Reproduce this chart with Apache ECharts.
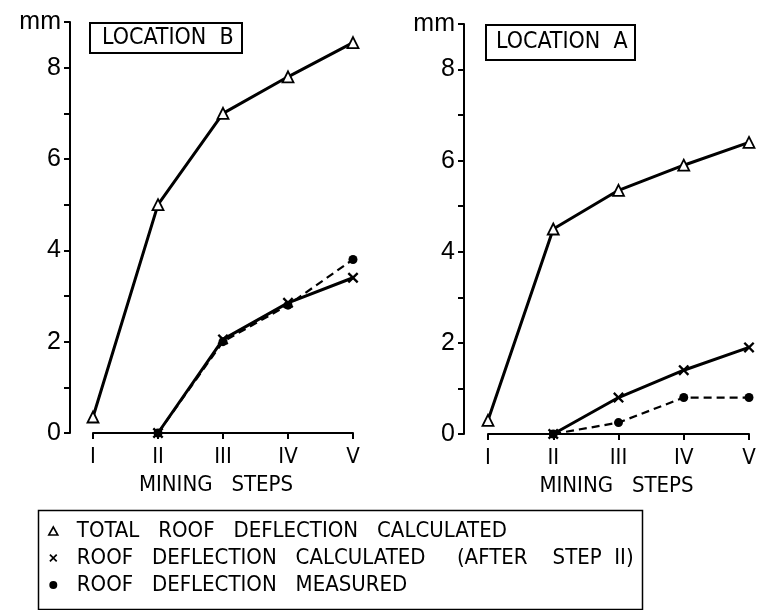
<!DOCTYPE html>
<html>
<head>
<meta charset="utf-8">
<title>Roof deflection by mining step</title>
<script src="https://cdn.jsdelivr.net/npm/echarts@6/dist/echarts.min.js"></script>
<style>
  html, body { margin: 0; padding: 0; background: #fff; }
  #chart { width: 772px; height: 610px; }
</style>
</head>
<body>
<div id="chart"></div>
<script>
// Mining steps along the horizontal axis
const steps = ['I', 'II', 'III', 'IV', 'V'];

// Location B (left panel), deflection in mm
const totalB = [0.35, 5.0, 7.0, 7.8, 8.55];
const calcB  = [null, 0, 2.05, 2.85, 3.4];
const measB  = [null, 0, 2.0, 2.8, 3.8];

// Location A (right panel), deflection in mm
const totalA = [0.3, 4.5, 5.35, 5.9, 6.4];
const calcA  = [null, 0, 0.8, 1.4, 1.9];
const measA  = [null, 0, 0.25, 0.8, 0.8];

// Vertical axis: labelled every 2 mm, unit shown at the top tick
const yMax = 9;
const yUnit = 'mm';

const NAME_TOTAL = 'TOTAL   ROOF   DEFLECTION   CALCULATED';
const NAME_CALC  = 'ROOF   DEFLECTION   CALCULATED     (AFTER    STEP  II)';
const NAME_MEAS  = 'ROOF   DEFLECTION   MEASURED';

const narrow = "'Liberation Sans Narrow', 'DejaVu Sans Condensed', 'Liberation Sans', sans-serif";
const sans = "'Liberation Sans', Arial, sans-serif";

const crossPath = 'path://M0,1.5 L1.5,0 L5,3.5 L8.5,0 L10,1.5 L6.5,5 L10,8.5 L8.5,10 L5,6.5 L1.5,10 L0,8.5 L3.5,5 Z';

function xAxisFor(gridIndex) {
  return {
    type: 'category',
    gridIndex: gridIndex,
    data: steps,
    boundaryGap: false,
    axisLine: { lineStyle: { color: '#000', width: 2 } },
    axisTick: { show: true, length: 6, lineStyle: { color: '#000', width: 2 } },
    axisLabel: { color: '#000', fontFamily: narrow, fontSize: 22, margin: 13 },
    splitLine: { show: false },
    name: 'MINING   STEPS',
    nameLocation: 'middle',
    nameGap: 41,
    nameTextStyle: { color: '#000', fontFamily: narrow, fontSize: 22,
                     padding: gridIndex === 0 ? [0, 14, 0, 0] : [0, 4, 0, 0] }
  };
}

function yAxisFor(gridIndex, offset) {
  return {
    type: 'value',
    gridIndex: gridIndex,
    min: 0,
    max: yMax,
    interval: 1,
    offset: offset,
    axisLine: { show: true, lineStyle: { color: '#000', width: 2 } },
    axisTick: { show: true, length: 6, lineStyle: { color: '#000', width: 2 } },
    axisLabel: {
      color: '#000', fontFamily: sans, fontSize: 25, margin: 9,
      formatter: function (v) {
        if (v === yMax) return yUnit;
        return v % 2 === 0 ? String(v) : '';
      }
    },
    splitLine: { show: false }
  };
}

function totalSeries(idx, data) {
  return {
    name: NAME_TOTAL, type: 'line', xAxisIndex: idx, yAxisIndex: idx, data: data,
    symbol: 'triangle', symbolSize: 11,
    lineStyle: { color: '#000', width: 3 },
    itemStyle: { color: '#fff', borderColor: '#000', borderWidth: 1.8 },
    z: 3
  };
}
function calcSeries(idx, data) {
  return {
    name: NAME_CALC, type: 'line', xAxisIndex: idx, yAxisIndex: idx, data: data,
    symbol: crossPath, symbolSize: 11, showSymbol: true,
    lineStyle: { color: '#000', width: 3 },
    itemStyle: { color: '#000' },
    z: 4
  };
}
function measSeries(idx, data) {
  return {
    name: NAME_MEAS, type: 'line', xAxisIndex: idx, yAxisIndex: idx, data: data,
    symbol: 'circle', symbolSize: 9,
    lineStyle: { color: '#000', width: 2.2, type: [8, 5] },
    itemStyle: { color: '#000' },
    z: 2
  };
}

const chart = echarts.init(document.getElementById('chart'), null, { renderer: 'canvas' });

chart.setOption({
  backgroundColor: '#fff',
  animation: false,
  title: [
    { text: 'LOCATION  B', left: 90, top: 23, borderColor: '#000', borderWidth: 2,
      padding: [4, 9, 3, 12],
      textStyle: { color: '#000', fontFamily: narrow, fontSize: 23, fontWeight: 'normal' } },
    { text: 'LOCATION  A', left: 486, top: 25, borderColor: '#000', borderWidth: 2,
      padding: [6, 8, 6, 10],
      textStyle: { color: '#000', fontFamily: narrow, fontSize: 23, fontWeight: 'normal' } }
  ],
  grid: [
    { left: 93, top: 22, width: 260, height: 411, containLabel: false },
    { left: 488, top: 24, width: 261, height: 410, containLabel: false }
  ],
  xAxis: [xAxisFor(0), xAxisFor(1)],
  yAxis: [yAxisFor(0, 23), yAxisFor(1, 24)],
  legend: {
    orient: 'vertical',
    left: 43, top: 515,
    itemWidth: 9, itemHeight: 8, itemGap: 5,
    selectedMode: false,
    textStyle: { color: '#000', fontFamily: narrow, fontSize: 22, lineHeight: 22, padding: [0, 0, 0, 14] },
    data: [
      { name: NAME_TOTAL, icon: 'triangle', itemStyle: { color: '#fff', borderColor: '#000', borderWidth: 1.6 } },
      { name: NAME_CALC, icon: crossPath, itemStyle: { color: '#000' } },
      { name: NAME_MEAS, icon: 'circle', itemStyle: { color: '#000' } }
    ]
  },
  graphic: [
    { type: 'rect', left: 36, top: 508, shape: { width: 604, height: 99 },
      style: { fill: 'none', stroke: '#000', lineWidth: 1.5 }, silent: true }
  ],
  series: [
    measSeries(0, measB), calcSeries(0, calcB), totalSeries(0, totalB),
    measSeries(1, measA), calcSeries(1, calcA), totalSeries(1, totalA)
  ]
});
</script>
</body>
</html>
